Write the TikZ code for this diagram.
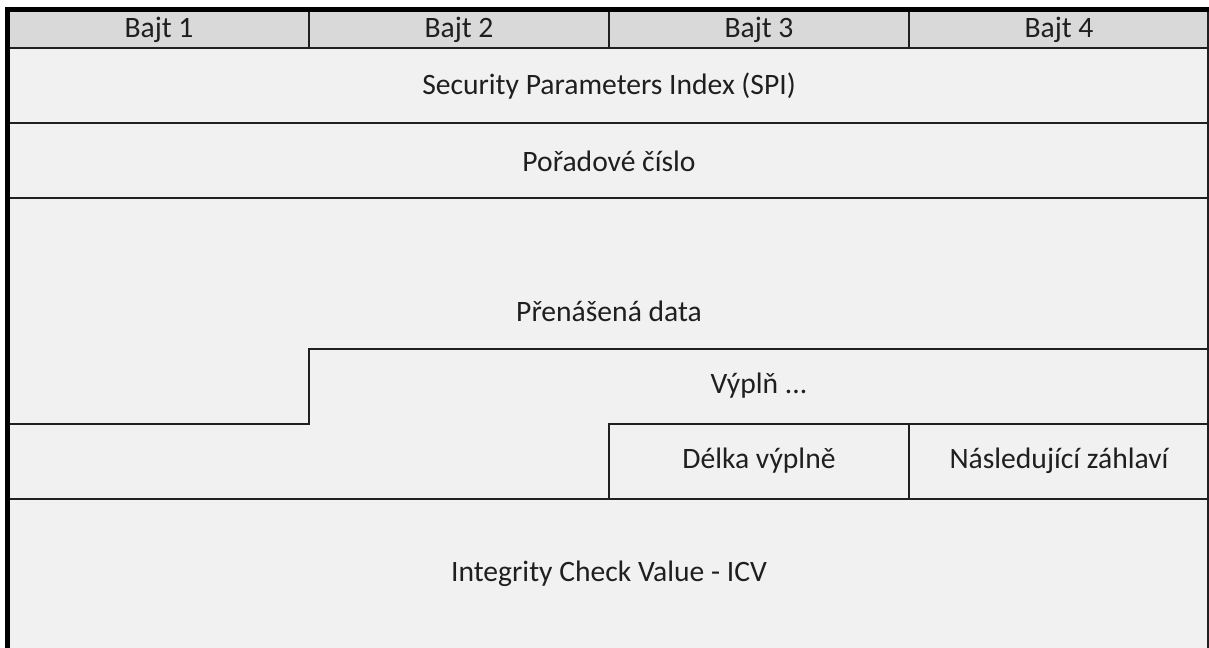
\documentclass[tikz,border=0pt]{standalone}
\usepackage{fontspec}
\setmainfont{Carlito}
\definecolor{headgray}{HTML}{D9D9D9}
\definecolor{bodygray}{HTML}{F1F1F1}
\definecolor{linegray}{HTML}{202020}
\tikzset{
  field/.style={font=\fontsize{22.2}{26}\selectfont, text=black!88, inner sep=0pt},
  sep/.style={draw=linegray, line width=1.6pt},
}
\begin{document}
\begin{tikzpicture}[x=0.75pt, y=-0.75pt]
          \useasboundingbox (0,0) rectangle (1209,648);
          \fill[white] (0,0) rectangle (1209,648);
          \fill[bodygray] (10,12) rectangle (1208,648);
          \fill[headgray] (10,12) rectangle (1208,48);

          % header
          \node[field] (b1) at (159,30) {Bajt 1};
          \node[field] (b2) at (459,30) {Bajt 2};
          \node[field] (b3) at (759,30) {Bajt 3};
          \node[field] (b4) at (1059,30) {Bajt 4};

          % fields
          \node[field] (spi) at (609,86) {Security Parameters Index (SPI)};
          \node[field] (seq) at (609,161) {Pořadové číslo};
          \node[field] (data) at (609,311) {Přenášená data};
          \node[field] (pad) at (759,386) {Výplň ...};
          \node[field] (padlen) at (759,461) {Délka výplně};
          \node[field] (next) at (1059,461) {Následující záhlaví};
          \node[field] (icv) at (609,574) {Integrity Check Value - ICV};

          \draw[sep] (309,12) -- (309,48);
          \draw[sep] (609,12) -- (609,48);
          \draw[sep] (909,12) -- (909,48);
          \draw[sep] (10,48) -- (1208,48);
          \draw[sep] (10,123) -- (1208,123);
          \draw[sep] (10,198) -- (1208,198);
          \draw[sep] (10,424) -- (309,424) -- (309,349) -- (1208,349);
          \draw[sep] (609,499) -- (609,424) -- (1208,424);
          \draw[sep] (909,424) -- (909,499);
          \draw[sep] (10,499) -- (1208,499);
          \draw[sep] (1208,12) -- (1208,648);

          \draw[line width=3.75pt] (7.5,648) -- (7.5,9.5) -- (1209,9.5);
\end{tikzpicture}
\end{document}
